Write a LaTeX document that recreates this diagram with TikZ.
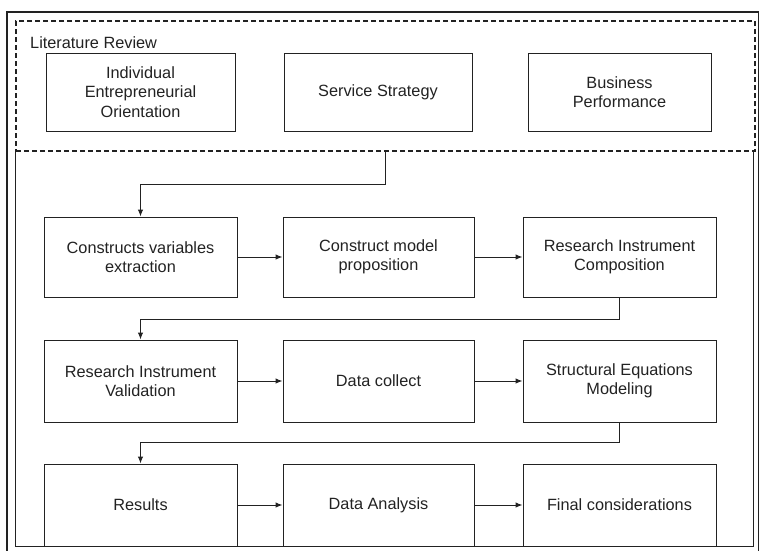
\documentclass[tikz,border=0pt]{standalone}
\usepackage{fontspec}
\setmainfont{Liberation Sans}
\usetikzlibrary{arrows.meta,calc}
\definecolor{ink}{HTML}{222222}
\begin{document}
\begin{tikzpicture}[x=1pt,y=-1pt,
  box/.style={draw=ink, line width=1pt, text=ink, align=center, inner sep=0pt,
    font=\fontsize{16.3}{19.3}\selectfont},
  colbox/.style={box, minimum width=193, minimum height=80},
  litbox/.style={box, minimum height=78},
  link/.style={draw=ink, line width=1pt, -{Latex[length=7pt,width=5.5pt]}},
  group/.style={draw=ink, line width=1.3pt, dash pattern=on 5pt off 3pt, inner sep=0pt}
]
\useasboundingbox (0,0) rectangle (759,550);
% outer frame
\draw[ink, line width=1.3pt] (7,12) rectangle (758.5,553);
% literature review group
\node[group, minimum width=739, minimum height=130] (lit) at (385.5,86) {};
\node[anchor=west, text=ink, inner sep=0pt, font=\fontsize{16.3}{19.3}\selectfont] (littitle) at (30,43) {Literature Review};
% lower container
\node[minimum width=737, minimum height=395, inner sep=0pt] (main) at (384.5,348.5) {};
\draw[ink, line width=1.3pt] (main.north west) -- (main.south west) -- (main.south east) -- (main.north east);
% literature boxes
\node[litbox, minimum width=189] (ieo) at (140.5,92) {Individual\\Entrepreneurial\\Orientation};
\node[litbox, minimum width=188] (ss) at (378,92) {Service Strategy};
\node[litbox, minimum width=183] (bp) at (619.5,92) {Business\\Performance};
% process boxes
\node[colbox] (cve) at (140.5,257) {Constructs variables\\extraction};
\node[colbox, minimum width=191] (cmp) at (378.5,257) {Construct model\\proposition};
\node[colbox] (ric) at (619.5,257) {Research Instrument\\Composition};
\node[colbox, minimum height=82] (riv) at (140.5,381) {Research Instrument\\Validation};
\node[colbox, minimum width=191, minimum height=82] (dc) at (378.5,381) {Data collect};
\node[colbox, minimum height=82] (sem) at (619.5,381) {Structural Equations\\Modeling};
\node[colbox, minimum height=82] (res) at (140.5,505) {Results};
\node[colbox, minimum width=191, minimum height=82] (da) at (378.5,505) {Data Analysis};
\node[colbox, minimum height=82] (fc) at (619.5,505) {Final considerations};
% connectors
\coordinate (litout) at ($(lit.south west)+(370.5,0)$);
\draw[link] (litout) -- ++(0,33) -| (cve.north);
\draw[link] (cve) -- (cmp);
\draw[link] (cmp) -- (ric);
\draw[link] (ric.south) -- ++(0,22) -| (riv.north);
\draw[link] (riv) -- (dc);
\draw[link] (dc) -- (sem);
\draw[link] (sem.south) -- ++(0,20) -| (res.north);
\draw[link] (res) -- (da);
\draw[link] (da) -- (fc);
\end{tikzpicture}
\end{document}
